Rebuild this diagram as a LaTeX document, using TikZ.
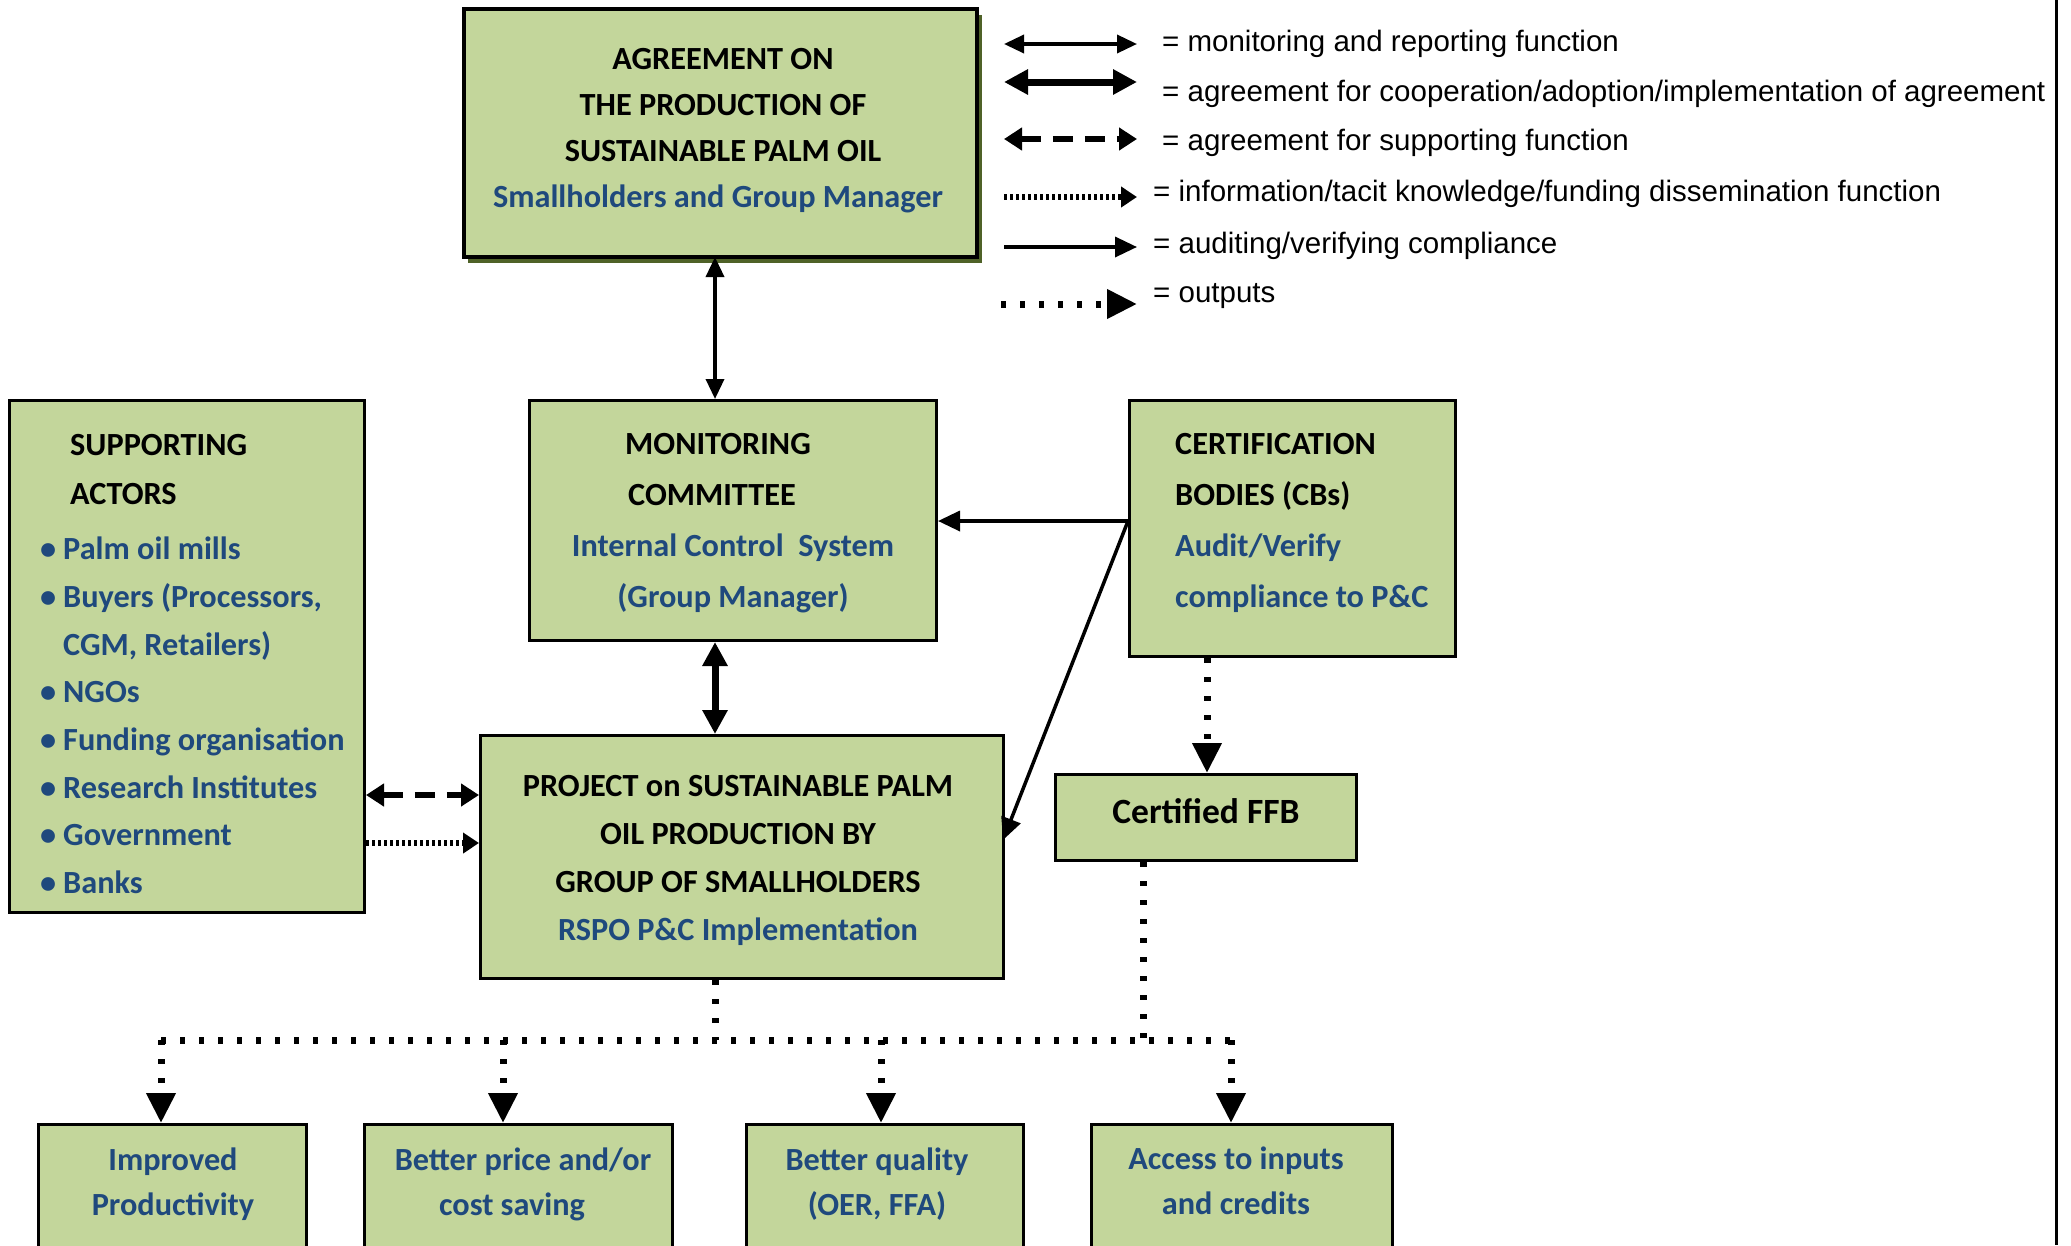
\documentclass[tikz,border=0pt]{standalone}
\usepackage{fontspec}
\setmainfont{Carlito}
\newfontfamily\legfont{Liberation Sans}
\usetikzlibrary{arrows.meta}
\definecolor{boxgreen}{RGB}{195,214,155}
\definecolor{txtblue}{RGB}{31,73,125}
\definecolor{shadowgreen}{RGB}{79,98,40}
\newcommand{\itembul}{\llap{\textbullet\hspace{7pt}}}
\tikzset{
  box/.style={draw=black, fill=boxgreen, line width=3pt, inner sep=0pt, anchor=north west},
  boxtext/.style={font=\fontsize{32.3}{48}\selectfont\bfseries, inner sep=0pt, align=center},
  legtext/.style={font=\legfont\fontsize{29.5}{34}\selectfont, anchor=west, inner sep=0pt},
  monitorarrow/.style={line width=3.5pt, {Triangle[length=20pt,width=18pt]}-{Triangle[length=20pt,width=18pt]}},
  agreearrow/.style={line width=7pt, {Triangle[length=24pt,width=24pt]}-{Triangle[length=24pt,width=24pt]}},
  supportarrow/.style={line width=6pt, dash pattern=on 20pt off 12pt, {Triangle[length=18pt,width=22pt]}-{Triangle[length=18pt,width=22pt]}},
  infoarrow/.style={line width=6pt, dash pattern=on 3pt off 3pt, -{Triangle[length=16pt,width=20pt]}},
  auditarrow/.style={line width=3.5pt, -{Triangle[length=22pt,width=20pt]}},
  outline/.style={line width=7pt, dash pattern=on 5pt off 14pt},
  outarrow/.style={outline, -{Triangle[length=30pt,width=28pt]}},
}
\begin{document}
\begin{tikzpicture}[x=1pt,y=-1pt]
\useasboundingbox (0,0) rectangle (2071,1245);
\clip (0,0) rectangle (2071,1245);
% right border line
\draw[line width=3pt] (2056,0) -- (2056,1245);

% ---------- boxes ----------
\fill[shadowgreen] (468,15) rectangle (982,263);
\node[box, line width=4pt, minimum width=513pt, minimum height=248pt] (agree) at (462,7) {};
\node[box, minimum width=407pt, minimum height=240pt] (mon) at (528,399) {};
\node[box, minimum width=326pt, minimum height=256pt] (cb) at (1128,399) {};
\node[box, minimum width=355pt, minimum height=512pt] (sup) at (8,399) {};
\node[box, minimum width=523pt, minimum height=243pt] (proj) at (479,734) {};
\node[box, minimum width=301pt, minimum height=86pt] (cert) at (1054,773) {};
\node[box, minimum width=268pt, minimum height=200pt] (o1) at (37,1123) {};
\node[box, minimum width=308pt, minimum height=200pt] (o2) at (363,1123) {};
\node[box, minimum width=277pt, minimum height=200pt] (o3) at (745,1123) {};
\node[box, minimum width=301pt, minimum height=200pt] (o4) at (1090,1123) {};

% ---------- texts ----------
\node[boxtext, font=\fontsize{32.3}{46}\selectfont\bfseries] (agreetxt) at (723,131)
  {AGREEMENT ON\\THE PRODUCTION OF\\SUSTAINABLE PALM OIL\\\mbox{\textcolor{txtblue}{Smallholders and Group Manager}\hspace{10pt}}};
\node[boxtext, font=\fontsize{32.3}{51}\selectfont\bfseries] (montxt) at (733,523)
  {\mbox{MONITORING\hspace{30pt}}\\\mbox{COMMITTEE\hspace{42pt}}\\\textcolor{txtblue}{Internal Control\ \ System}\\\textcolor{txtblue}{(Group Manager)}};
\node[boxtext, font=\fontsize{32.3}{51}\selectfont\bfseries, align=left, anchor=west] (cbtxt) at (1175,523)
  {CERTIFICATION\\BODIES (CBs)\\\textcolor{txtblue}{Audit/Verify}\\\textcolor{txtblue}{compliance to P\&C}};
\node[boxtext, font=\fontsize{32.3}{47.7}\selectfont\bfseries, align=left, anchor=west, text=txtblue] (suptxt) at (63,664)
  {\hspace*{7pt}\textcolor{black}{SUPPORTING}\\[1.3pt]\hspace*{7pt}\textcolor{black}{ACTORS}\\[7.8pt]
   \itembul Palm oil mills\\\itembul Buyers (Processors,\\CGM, Retailers)\\\itembul NGOs\\
   \itembul Funding organisation\\\itembul Research Institutes\\\itembul Government\\\itembul Banks};
\node[boxtext] (projtxt) at (738,860)
  {PROJECT on SUSTAINABLE PALM\\OIL PRODUCTION BY\\GROUP OF SMALLHOLDERS\\\textcolor{txtblue}{RSPO P\&C Implementation}};
\node[boxtext, font=\fontsize{35.5}{42}\selectfont\bfseries] (certtxt) at (1206,811) {Certified FFB};
\node[boxtext, font=\fontsize{32.3}{45}\selectfont\bfseries, text=txtblue] (o1txt) at (173,1184) {Improved\\Productivity};
\node[boxtext, font=\fontsize{32.3}{45}\selectfont\bfseries, text=txtblue] (o2txt) at (523,1184) {Better price and/or\\\mbox{cost saving\hspace{22pt}}};
\node[boxtext, font=\fontsize{32.3}{45}\selectfont\bfseries, text=txtblue] (o3txt) at (877,1184) {Better quality\\(OER, FFA)};
\node[boxtext, font=\fontsize{32.3}{45}\selectfont\bfseries, text=txtblue] (o4txt) at (1236,1181) {Access to inputs\\and credits};

% ---------- connectors ----------
\coordinate (sx) at (715,0);
\coordinate (cbport) at (1128,521);
\coordinate (projport) at (1003,840);
\draw[monitorarrow] (sx |- 0,257) -- (sx |- mon.north);
\draw[agreearrow] (sx |- mon.south) -- (sx |- proj.north);
\draw[auditarrow] (cbport) -- (cbport -| mon.east);
\draw[auditarrow] (cbport) -- (projport);
\draw[outarrow] (cb.south -| 1207,0) -- (cert.north -| 1207,0);
\draw[supportarrow] (sup.east |- 0,795) -- (proj.west |- 0,795);
\draw[infoarrow] (sup.east |- 0,843) -- (proj.west |- 0,843);

\coordinate (busA) at (161,1040);
\coordinate (busB) at (503,1040);
\coordinate (busC) at (881,1040);
\coordinate (busD) at (1231,1040);
\draw[outline] (busA) -- (busD);
\draw[outline] (sx |- proj.south) -- (sx |- busA);
\draw[outline] (cert.south -| 1143,0) -- (1143,1040);
\draw[outarrow] (busA) -- (busA |- o1.north);
\draw[outarrow] (busB) -- (busB |- o2.north);
\draw[outarrow] (busC) -- (busC |- o3.north);
\draw[outarrow] (busD) -- (busD |- o4.north);

% ---------- legend ----------
\coordinate (l1a) at (1004,44);  \coordinate (l1b) at (1137,44);
\coordinate (l2a) at (1004,82);  \coordinate (l2b) at (1137,82);
\coordinate (l3a) at (1004,139); \coordinate (l3b) at (1137,139);
\coordinate (l4a) at (1004,197); \coordinate (l4b) at (1137,197);
\coordinate (l5a) at (1004,247); \coordinate (l5b) at (1137,247);
\coordinate (l6a) at (1001,304); \coordinate (l6b) at (1137,304);
\draw[monitorarrow] (l1a) -- (l1b);
\draw[agreearrow] (l2a) -- (l2b);
\draw[supportarrow] (l3a) -- (l3b);
\draw[infoarrow] (l4a) -- (l4b);
\draw[auditarrow] (l5a) -- (l5b);
\draw[outarrow] (l6a) -- (l6b);
\node[legtext] (lt1) at (1162,44) {= monitoring and reporting function};
\node[legtext] (lt2) at (1162,94) {= agreement for cooperation/adoption/implementation of agreement};
\node[legtext] (lt3) at (1162,143) {= agreement for supporting function};
\node[legtext] (lt4) at (1153,194) {= information/tacit knowledge/funding dissemination function};
\node[legtext] (lt5) at (1153,246) {= auditing/verifying compliance};
\node[legtext] (lt6) at (1153,296) {= outputs};
\end{tikzpicture}
\end{document}
